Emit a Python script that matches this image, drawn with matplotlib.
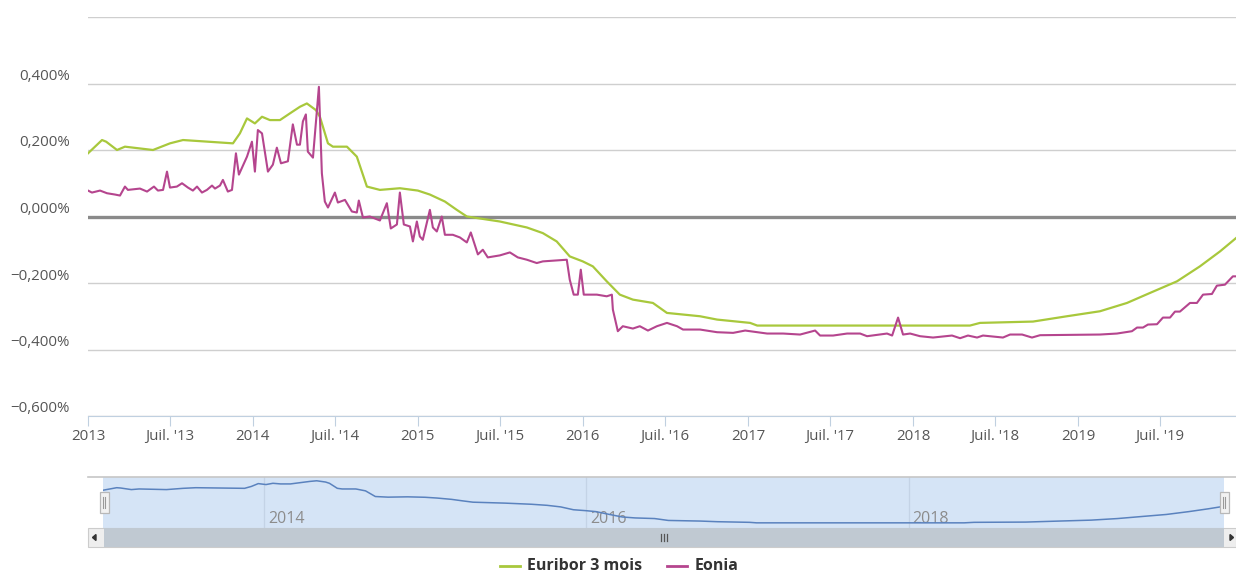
import pandas as pd
import matplotlib.pyplot as plt
import matplotlib.dates as mdates
import matplotlib.transforms as mtrans
from matplotlib.patches import Rectangle, Polygon
from matplotlib.ticker import FixedLocator, FuncFormatter

# ---- données (temps en années décimales, taux en %) ----
euribor_t = [2013.00, 2013.085, 2013.11, 2013.176, 2013.224, 2013.394, 2013.497,
             2013.576, 2013.879, 2013.921, 2013.964, 2014.012, 2014.055, 2014.103,
             2014.164, 2014.224, 2014.285, 2014.327, 2014.382, 2014.406, 2014.455,
             2014.485, 2014.570, 2014.630, 2014.691, 2014.770, 2014.891, 2015.000,
             2015.073, 2015.164, 2015.236, 2015.297, 2015.497, 2015.661, 2015.758,
             2015.842, 2015.921, 2016.000, 2016.061, 2016.145, 2016.224, 2016.303,
             2016.424, 2016.509, 2016.709, 2016.812, 2017.012, 2017.055, 2018.345,
             2018.406, 2018.727, 2018.933, 2019.133, 2019.297, 2019.436, 2019.600,
             2019.739, 2019.861, 2019.958]
euribor_v = [0.19, 0.23, 0.225, 0.20, 0.21, 0.20, 0.22,
             0.23, 0.22, 0.25, 0.295, 0.28, 0.30, 0.29,
             0.29, 0.31, 0.33, 0.34, 0.32, 0.30, 0.22,
             0.21, 0.21, 0.18, 0.09, 0.08, 0.085, 0.078,
             0.066, 0.045, 0.02, 0.0, -0.015, -0.033, -0.05,
             -0.075, -0.12, -0.135, -0.15, -0.195, -0.235, -0.25,
             -0.26, -0.29, -0.30, -0.31, -0.32, -0.328, -0.328,
             -0.32, -0.316, -0.30, -0.285, -0.26, -0.23, -0.195,
             -0.15, -0.105, -0.065]

eonia_t = [2013.000, 2013.024, 2013.073, 2013.115, 2013.164, 2013.194, 2013.224,
           2013.242, 2013.315, 2013.358, 2013.400, 2013.424, 2013.455, 2013.479,
           2013.497, 2013.539, 2013.570, 2013.606, 2013.636, 2013.661, 2013.691,
           2013.721, 2013.752, 2013.770, 2013.800, 2013.818, 2013.848, 2013.873,
           2013.897, 2013.915, 2013.964, 2013.994, 2014.012, 2014.030, 2014.055,
           2014.091, 2014.121, 2014.145, 2014.170, 2014.212, 2014.242, 2014.267,
           2014.285, 2014.303, 2014.321, 2014.333, 2014.364, 2014.400, 2014.418,
           2014.436, 2014.455, 2014.497, 2014.515, 2014.558, 2014.600, 2014.630,
           2014.642, 2014.667, 2014.709, 2014.770, 2014.812, 2014.836, 2014.873,
           2014.891, 2014.915, 2014.952, 2014.970, 2014.994, 2015.012, 2015.030,
           2015.073, 2015.091, 2015.115, 2015.145, 2015.164, 2015.212, 2015.255,
           2015.297, 2015.321, 2015.364, 2015.394, 2015.424, 2015.497, 2015.558,
           2015.606, 2015.661, 2015.721, 2015.758, 2015.903, 2015.921, 2015.945,
           2015.970, 2015.988, 2016.006, 2016.085, 2016.145, 2016.176, 2016.182,
           2016.212, 2016.242, 2016.303, 2016.345, 2016.394, 2016.448, 2016.509,
           2016.570, 2016.606, 2016.709, 2016.812, 2016.909, 2016.982, 2017.115,
           2017.212, 2017.315, 2017.406, 2017.436, 2017.515, 2017.600, 2017.679,
           2017.721, 2017.842, 2017.873, 2017.909, 2017.939, 2017.982, 2018.042,
           2018.121, 2018.236, 2018.285, 2018.333, 2018.388, 2018.424, 2018.545,
           2018.588, 2018.661, 2018.721, 2018.770, 2019.133, 2019.236, 2019.327,
           2019.358, 2019.394, 2019.424, 2019.479, 2019.515, 2019.558, 2019.588,
           2019.618, 2019.679, 2019.721, 2019.758, 2019.812, 2019.842, 2019.891,
           2019.939, 2019.958]
eonia_v = [0.078, 0.072, 0.078, 0.070, 0.066, 0.063, 0.090,
           0.080, 0.084, 0.075, 0.090, 0.078, 0.080, 0.135,
           0.087, 0.090, 0.100, 0.087, 0.078, 0.090, 0.072,
           0.080, 0.093, 0.084, 0.093, 0.110, 0.075, 0.080,
           0.190, 0.126, 0.180, 0.225, 0.135, 0.260, 0.250,
           0.135, 0.156, 0.207, 0.160, 0.166, 0.277, 0.216,
           0.216, 0.286, 0.307, 0.195, 0.177, 0.390, 0.130,
           0.045, 0.027, 0.072, 0.042, 0.050, 0.015, 0.012,
           0.048, -0.003, 0.000, -0.012, 0.040, -0.036, -0.024,
           0.072, -0.024, -0.030, -0.075, -0.015, -0.060, -0.070,
           0.020, -0.033, -0.045, 0.000, -0.055, -0.055, -0.063,
           -0.078, -0.048, -0.114, -0.100, -0.123, -0.117, -0.108,
           -0.123, -0.130, -0.140, -0.135, -0.130, -0.190, -0.235,
           -0.235, -0.160, -0.235, -0.235, -0.240, -0.235, -0.280,
           -0.345, -0.330, -0.337, -0.330, -0.343, -0.330, -0.320,
           -0.330, -0.340, -0.340, -0.348, -0.350, -0.343, -0.352,
           -0.352, -0.355, -0.343, -0.358, -0.358, -0.352, -0.352,
           -0.360, -0.352, -0.358, -0.304, -0.355, -0.352, -0.360,
           -0.364, -0.358, -0.366, -0.358, -0.364, -0.358, -0.364,
           -0.355, -0.355, -0.364, -0.357, -0.355, -0.352, -0.345,
           -0.334, -0.334, -0.325, -0.324, -0.304, -0.304, -0.286,
           -0.286, -0.260, -0.260, -0.235, -0.233, -0.208, -0.205,
           -0.180, -0.180]

y_ticks = [-0.6, -0.4, -0.2, 0.0, 0.2, 0.4]
x_tick_years = [2013, 2014, 2015, 2016, 2017, 2018, 2019]
nav_label_years = [2014, 2016, 2018]
series_names = ['Euribor 3 mois', 'Eonia']

GREEN = '#a8c83c'
MAGENTA = '#b5458e'
FONT = ['Open Sans', 'DejaVu Sans']


def to_date(t):
    y = int(t)
    start = pd.Timestamp(y, 1, 1)
    end = pd.Timestamp(y + 1, 1, 1)
    return start + (end - start) * (t - y)


eur_d = [to_date(t) for t in euribor_t]
eon_d = [to_date(t) for t in eonia_t]

W, H = 1236, 574
fig = plt.figure(figsize=(W / 100, H / 100), dpi=100)
plt.rcParams['font.family'] = FONT


def px(x0, y0, x1, y1):
    # rectangle en pixels (origine en haut à gauche) -> fraction de figure
    return [x0 / W, 1 - y1 / H, (x1 - x0) / W, (y1 - y0) / H]


# ---- graphique principal ----
ax = fig.add_axes(px(88, 17, 1236, 416))
ax.plot(eur_d, euribor_v, color=GREEN, lw=1.6, zorder=4)
ax.plot(eon_d, eonia_v, color=MAGENTA, lw=1.5, zorder=5)
ax.set_xlim(eur_d[0], eur_d[-1])
ax.set_ylim(-0.6, 0.6)

for v in y_ticks + [0.6]:
    ax.axhline(v, color='#cfcfcf', lw=1.0, zorder=1)
ax.axhline(0, color='#8a8a8a', lw=2.4, zorder=2)

for s in ['top', 'right', 'left']:
    ax.spines[s].set_visible(False)
ax.spines['bottom'].set_color('#c0d0e0')
ax.set_yticks([])

lab_tr = mtrans.offset_copy(ax.get_yaxis_transform(), fig=fig, x=-18, y=7, units='dots')
for v in y_ticks:
    txt = f'{v:.3f}'.replace('.', ',').replace('-', '\u2212') + '%'
    ax.text(0, v, txt, transform=lab_tr, ha='right', va='center',
            fontsize=10.8, color='#555555')

xt = []
for yr in x_tick_years:
    xt.append(pd.Timestamp(yr, 1, 1))
    xt.append(pd.Timestamp(yr, 7, 1))
xt_num = [mdates.date2num(d) for d in xt]
ax.xaxis.set_major_locator(FixedLocator(xt_num))


def fmt_x(x, pos):
    d = mdates.num2date(x)
    if d.month == 1:
        return str(d.year)
    return "Juil. '" + str(d.year)[2:]


ax.xaxis.set_major_formatter(FuncFormatter(fmt_x))
ax.tick_params(axis='x', length=7.2, width=0.8, color='#c0d0e0', pad=2,
               labelsize=10.8, labelcolor='#555555')

# ---- navigateur ----
nav = fig.add_axes(px(103, 477, 1224, 528))
nav.set_facecolor('#d5e4f6')
nav.plot(eur_d, euribor_v, color='#5a82be', lw=1.1, zorder=3)
nav.set_xlim(eur_d[0], eur_d[-1])
nav.set_ylim(-0.41, 0.40)
nav.set_xticks([])
nav.set_yticks([])
for s in nav.spines.values():
    s.set_visible(False)
lab_nav = mtrans.offset_copy(nav.get_xaxis_transform(), fig=fig, x=4, y=0, units='dots')
for yr in nav_label_years:
    d = pd.Timestamp(yr, 1, 1)
    nav.axvline(d, color='#c4d3e6', lw=0.9, zorder=1)
    nav.text(d, 0.18, str(yr), transform=lab_nav, ha='left', va='center',
             fontsize=11.5, color='#8c8c8c', zorder=2)

# ---- décor : barre de défilement, poignées, légende ----
deco = fig.add_axes([0, 0, 1, 1], facecolor='none')
deco.set_xlim(0, W)
deco.set_ylim(H, 0)
deco.axis('off')

deco.plot([88, 1236], [477, 477], color='#c6c6c6', lw=1.2)
deco.add_patch(Rectangle((88, 528), 1148, 19, facecolor='#eeeeee', edgecolor='#cccccc', lw=0.8))
deco.add_patch(Rectangle((104, 528), 1120, 19, facecolor='#c0c9d2', edgecolor='none'))
deco.add_patch(Polygon([[96, 534.5], [96, 540.5], [92.5, 537.5]], closed=True, color='#333333'))
deco.add_patch(Polygon([[1230, 534.5], [1230, 540.5], [1233.5, 537.5]], closed=True, color='#333333'))
for gx in [661, 664, 667]:
    deco.plot([gx, gx], [534, 541], color='#555555', lw=0.9)

for hx in [104, 1224]:
    deco.add_patch(Rectangle((hx - 4.5, 492), 9, 21, facecolor='#f2f2f2',
                             edgecolor='#b8b8b8', lw=0.9))
    for dx in [-1.2, 1.2]:
        deco.plot([hx + dx, hx + dx], [497, 508], color='#999999', lw=0.8)

deco.plot([500, 520], [566, 566], color=GREEN, lw=2)
deco.text(527, 566, series_names[0], ha='left', va='center', fontsize=11.5,
          fontweight='bold', color='#333333')
deco.plot([667, 687], [566, 566], color=MAGENTA, lw=2)
deco.text(695, 566, series_names[1], ha='left', va='center', fontsize=11.5,
          fontweight='bold', color='#333333')

fig.savefig('out.png', dpi=100)
